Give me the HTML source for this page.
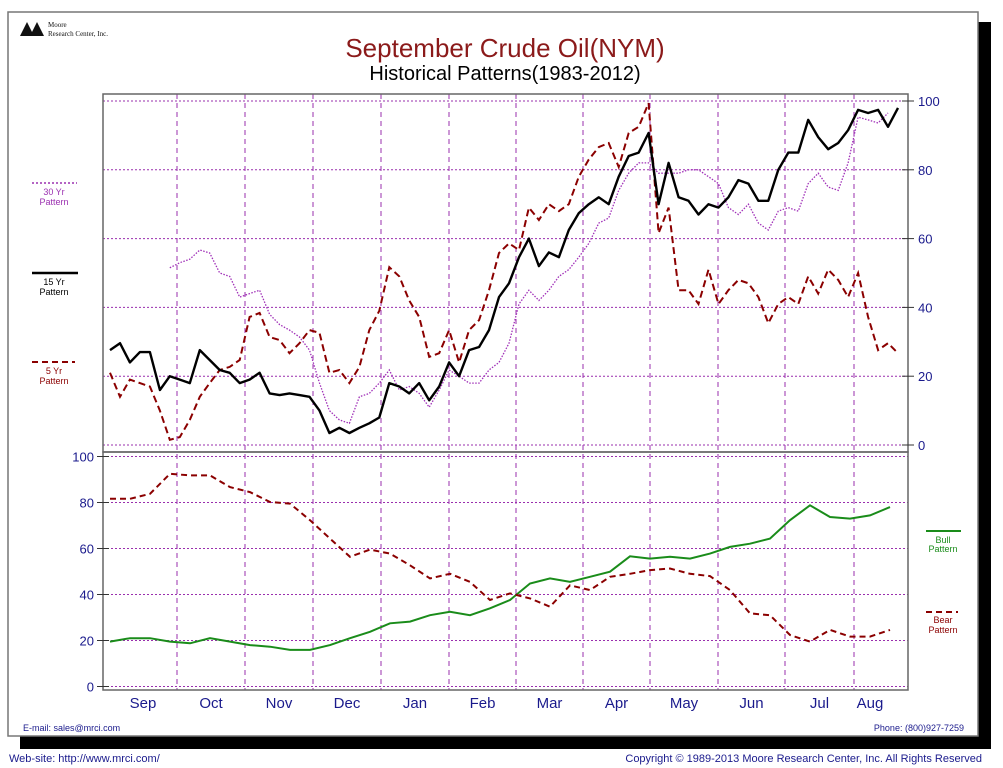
<!DOCTYPE html>
<html><head><meta charset="utf-8"><style>
html,body{margin:0;padding:0;background:#fff;}
svg{display:block;font-family:"Liberation Sans",Arial,sans-serif;}
</style></head><body>
<svg id="chart" width="1003" height="768" viewBox="0 0 1003 768" xmlns="http://www.w3.org/2000/svg">
  <rect x="20" y="22" width="971" height="727" fill="#000"/>
  <rect x="8" y="12" width="970" height="724" fill="#fff" stroke="#777" stroke-width="1.5"/>
  <g>
    <polygon points="20,36 27,22 34,36" fill="#111"/>
    <polygon points="30,36 37,22 44,36" fill="#111"/>
    <text x="48" y="27" font-family="Liberation Serif,serif" font-size="7" fill="#111">Moore</text>
    <text x="48" y="36" font-family="Liberation Serif,serif" font-size="7" fill="#111">Research Center, Inc.</text>
  </g>
  <text x="505" y="57" text-anchor="middle" font-size="26" fill="#8b1a1a">September Crude Oil(NYM)</text>
  <text x="505" y="80" text-anchor="middle" font-size="20" fill="#000">Historical Patterns(1983-2012)</text>
  <g id="grid"></g>
  <g id="series"></g>
  <rect x="103" y="94" width="805" height="358" fill="none" stroke="#666" stroke-width="1.5"/>
  <rect x="103" y="452" width="805" height="238" fill="none" stroke="#666" stroke-width="1.5"/>
  <g id="axes"></g>
  <g>
    <line x1="32" y1="183" x2="77" y2="183" stroke="#9b30b0" stroke-width="1.5" stroke-dasharray="2,2"/>
    <text x="54" y="195" text-anchor="middle" font-size="9" fill="#9b30b0">30 Yr</text>
    <text x="54" y="205" text-anchor="middle" font-size="9" fill="#9b30b0">Pattern</text>
  </g>
  <g>
    <line x1="32" y1="273" x2="78" y2="273" stroke="#000" stroke-width="2.5"/>
    <text x="54" y="285" text-anchor="middle" font-size="9" fill="#000">15 Yr</text>
    <text x="54" y="295" text-anchor="middle" font-size="9" fill="#000">Pattern</text>
  </g>
  <g>
    <line x1="32" y1="362" x2="75" y2="362" stroke="#8b0000" stroke-width="2" stroke-dasharray="6,4"/>
    <text x="54" y="374" text-anchor="middle" font-size="9" fill="#8b0000">5 Yr</text>
    <text x="54" y="384" text-anchor="middle" font-size="9" fill="#8b0000">Pattern</text>
  </g>
  <g>
    <line x1="926" y1="531" x2="961" y2="531" stroke="#1a8c1a" stroke-width="2"/>
    <text x="943" y="543" text-anchor="middle" font-size="9" fill="#1a8c1a">Bull</text>
    <text x="943" y="552" text-anchor="middle" font-size="9" fill="#1a8c1a">Pattern</text>
  </g>
  <g>
    <line x1="926" y1="612" x2="958" y2="612" stroke="#8b0000" stroke-width="2" stroke-dasharray="6,4"/>
    <text x="943" y="623" text-anchor="middle" font-size="9" fill="#8b0000">Bear</text>
    <text x="943" y="633" text-anchor="middle" font-size="9" fill="#8b0000">Pattern</text>
  </g>
  <text x="23" y="731" font-size="9" fill="#1a1a8c">E-mail: sales@mrci.com</text>
  <text x="964" y="731" text-anchor="end" font-size="9" fill="#1a1a8c">Phone: (800)927-7259</text>
  <text x="9" y="762" font-size="11" fill="#1a1a8c">Web-site: http://www.mrci.com/</text>
  <text x="982" y="762" text-anchor="end" font-size="11" fill="#1a1a8c">Copyright © 1989-2013 Moore Research Center, Inc. All Rights Reserved</text>
</svg>
<script>
const months = ["Sep","Oct","Nov","Dec","Jan","Feb","Mar","Apr","May","Jun","Jul","Aug"];
const topTicks = [0,20,40,60,80,100];
const bottomTicks = [0,20,40,60,80,100];
const yr15 = [27.6,29.6,24,27,27,16,20,19,18,27.6,24.7,21.8,21,18,19,21,15,14.5,15,14.5,14,10,3.5,5,3.5,5,6.3,8,18,17,15,18,13,17,24,20,27.6,28.5,33.4,43,47,54.6,60,52,56,54.6,62.5,67.4,70,72,70,78,84,85,90.7,70,82,72,71,67,70,69,72,77,76,71,71,80,85,85,94.5,89.5,86,87.8,91.5,97.4,96.5,97.4,92.5,98];
const yr30 = [null,null,null,null,null,null,51.5,53,54,56.7,55.8,50,49,43,44,45,38,35,33.4,31.4,27.6,18,10,7.3,6.3,14,15,18,21.8,16,17,15,11,16,21.8,20,18,18,21.8,24,29.6,41,45,42,45,49,51,54.6,58.6,64.5,66,74,79,82,82,79,79,79,80,80,78,76,69,67,70,64.5,62.5,68,69,68,76,79,75,74,82,95.3,94.5,93.6,96.5,null];
const yr5 = [21,14,19,18,17,10,1.5,2.3,7.3,14,18,21.8,22.7,24.7,37.2,38.4,31.4,30.5,26.7,29.6,33.4,32.6,21,21.8,18,22.7,33.4,39,51.7,49,42,37.2,25.6,26.7,33.4,24,33.4,36.3,45,55.8,58.6,56.7,69,65.4,70,68,70,78,83,86.6,87.8,80.8,90.7,92.5,99.4,61.6,69,45,45,41,51,41,45,48,47,43,35.4,41,43,41,49,44,51,48,43,50,37.2,27.6,29.6,26.7];
const bull = [19.5,21,21,19.5,18.8,21,19.5,18,17.3,15.9,15.9,18,21,23.8,27.5,28.2,31,32.5,31,34,37.6,44.8,47,45.5,47.7,49.9,56.6,55.6,56.4,55.6,57.8,60.7,62.1,64.3,72.3,78.8,73.7,73,74.4,78];
const bear = [81.6,81.6,83.8,92.5,91.8,91.8,86.7,84.5,80.2,79.5,72.3,64.3,56.4,59.5,57.8,52.7,47,49,45.5,37.6,40.5,38.3,34.7,44,41.9,47.7,49,50.6,51.3,49,48,41.9,31.8,31,22.4,19.5,24.6,21.7,21.7,24.6];

const NS='http://www.w3.org/2000/svg';
const X0=110, X1=898;
const monthBounds=[177,245,313,381,449,516,583,650,718,785,854];
function xTop(i){return X0+i*(X1-X0)/(yr15.length-1);}
function xBot(i){return X0+i*(890-X0)/(bull.length-1);}
function yTop(v){return 445-v*3.44;}
function yBot(v){return 686.5-v*2.3;}
function mk(tag,attrs,parent){const e=document.createElementNS(NS,tag);for(const k in attrs)e.setAttribute(k,attrs[k]);parent.appendChild(e);return e;}
const grid=document.getElementById('grid'), ser=document.getElementById('series'), axes=document.getElementById('axes');
const gc='#9a2fae';
topTicks.forEach(t=>{
  const l=mk('line',{x1:103,x2:908,y1:yTop(t),y2:yTop(t),stroke:gc,'stroke-width':1,'stroke-dasharray':'2,2'},grid);
  
  
  const k=mk('line',{x1:902,x2:914,y1:yTop(t),y2:yTop(t),stroke:'#333','stroke-width':1},axes);
  
  
  const tx=mk('text',{x:918,y:yTop(t)+5,'font-size':13,fill:'#1a1a8c'},axes);
  tx.textContent=t;
  
  
});
bottomTicks.forEach(t=>{
  const l=mk('line',{x1:103,x2:908,y1:yBot(t),y2:yBot(t),stroke:gc,'stroke-width':1,'stroke-dasharray':'2,2'},grid);
  
  
  const k=mk('line',{x1:97,x2:109,y1:yBot(t),y2:yBot(t),stroke:'#333','stroke-width':1},axes);
  
  
  const tx=mk('text',{x:94,y:yBot(t)+5,'font-size':13,fill:'#1a1a8c','text-anchor':'end'},axes);
  tx.textContent=t;
  
  
});
monthBounds.forEach((x,i)=>{
  const l=mk('line',{x1:x,x2:x,y1:94,y2:690,stroke:gc,'stroke-width':1,'stroke-dasharray':'5,4'},grid);
  
  
});
const edges=[109].concat(monthBounds).concat([898]);
months.forEach((m,i)=>{
  let cx=(edges[i]+edges[i+1])/2; if(i===months.length-1) cx=870;
  const tx=mk('text',{x:cx,y:708,'font-size':15,fill:'#1a1a8c','text-anchor':'middle'},axes);
  tx.textContent=m;
  
  
});
function pathFor(arr,xf,yf){let d='',pen=false;arr.forEach((v,i)=>{if(v===null){pen=false;return;}d+=(pen?'L':'M')+xf(i).toFixed(1)+','+yf(v).toFixed(1);pen=true;});return d;}
const p30=mk('path',{d:pathFor(yr30,xTop,yTop),fill:'none',stroke:'#a030b8','stroke-width':1.3,'stroke-dasharray':'1.5,1.5'},ser);


const p5=mk('path',{d:pathFor(yr5,xTop,yTop),fill:'none',stroke:'#8b0000','stroke-width':2,'stroke-dasharray':'7,4'},ser);


const p15=mk('path',{d:pathFor(yr15,xTop,yTop),fill:'none',stroke:'#000','stroke-width':2.4,'stroke-linejoin':'round'},ser);


const pb=mk('path',{d:pathFor(bull,xBot,yBot),fill:'none',stroke:'#1a8c1a','stroke-width':2},ser);


const pr=mk('path',{d:pathFor(bear,xBot,yBot),fill:'none',stroke:'#8b0000','stroke-width':2,'stroke-dasharray':'6,4'},ser);


</script>
</body></html>
